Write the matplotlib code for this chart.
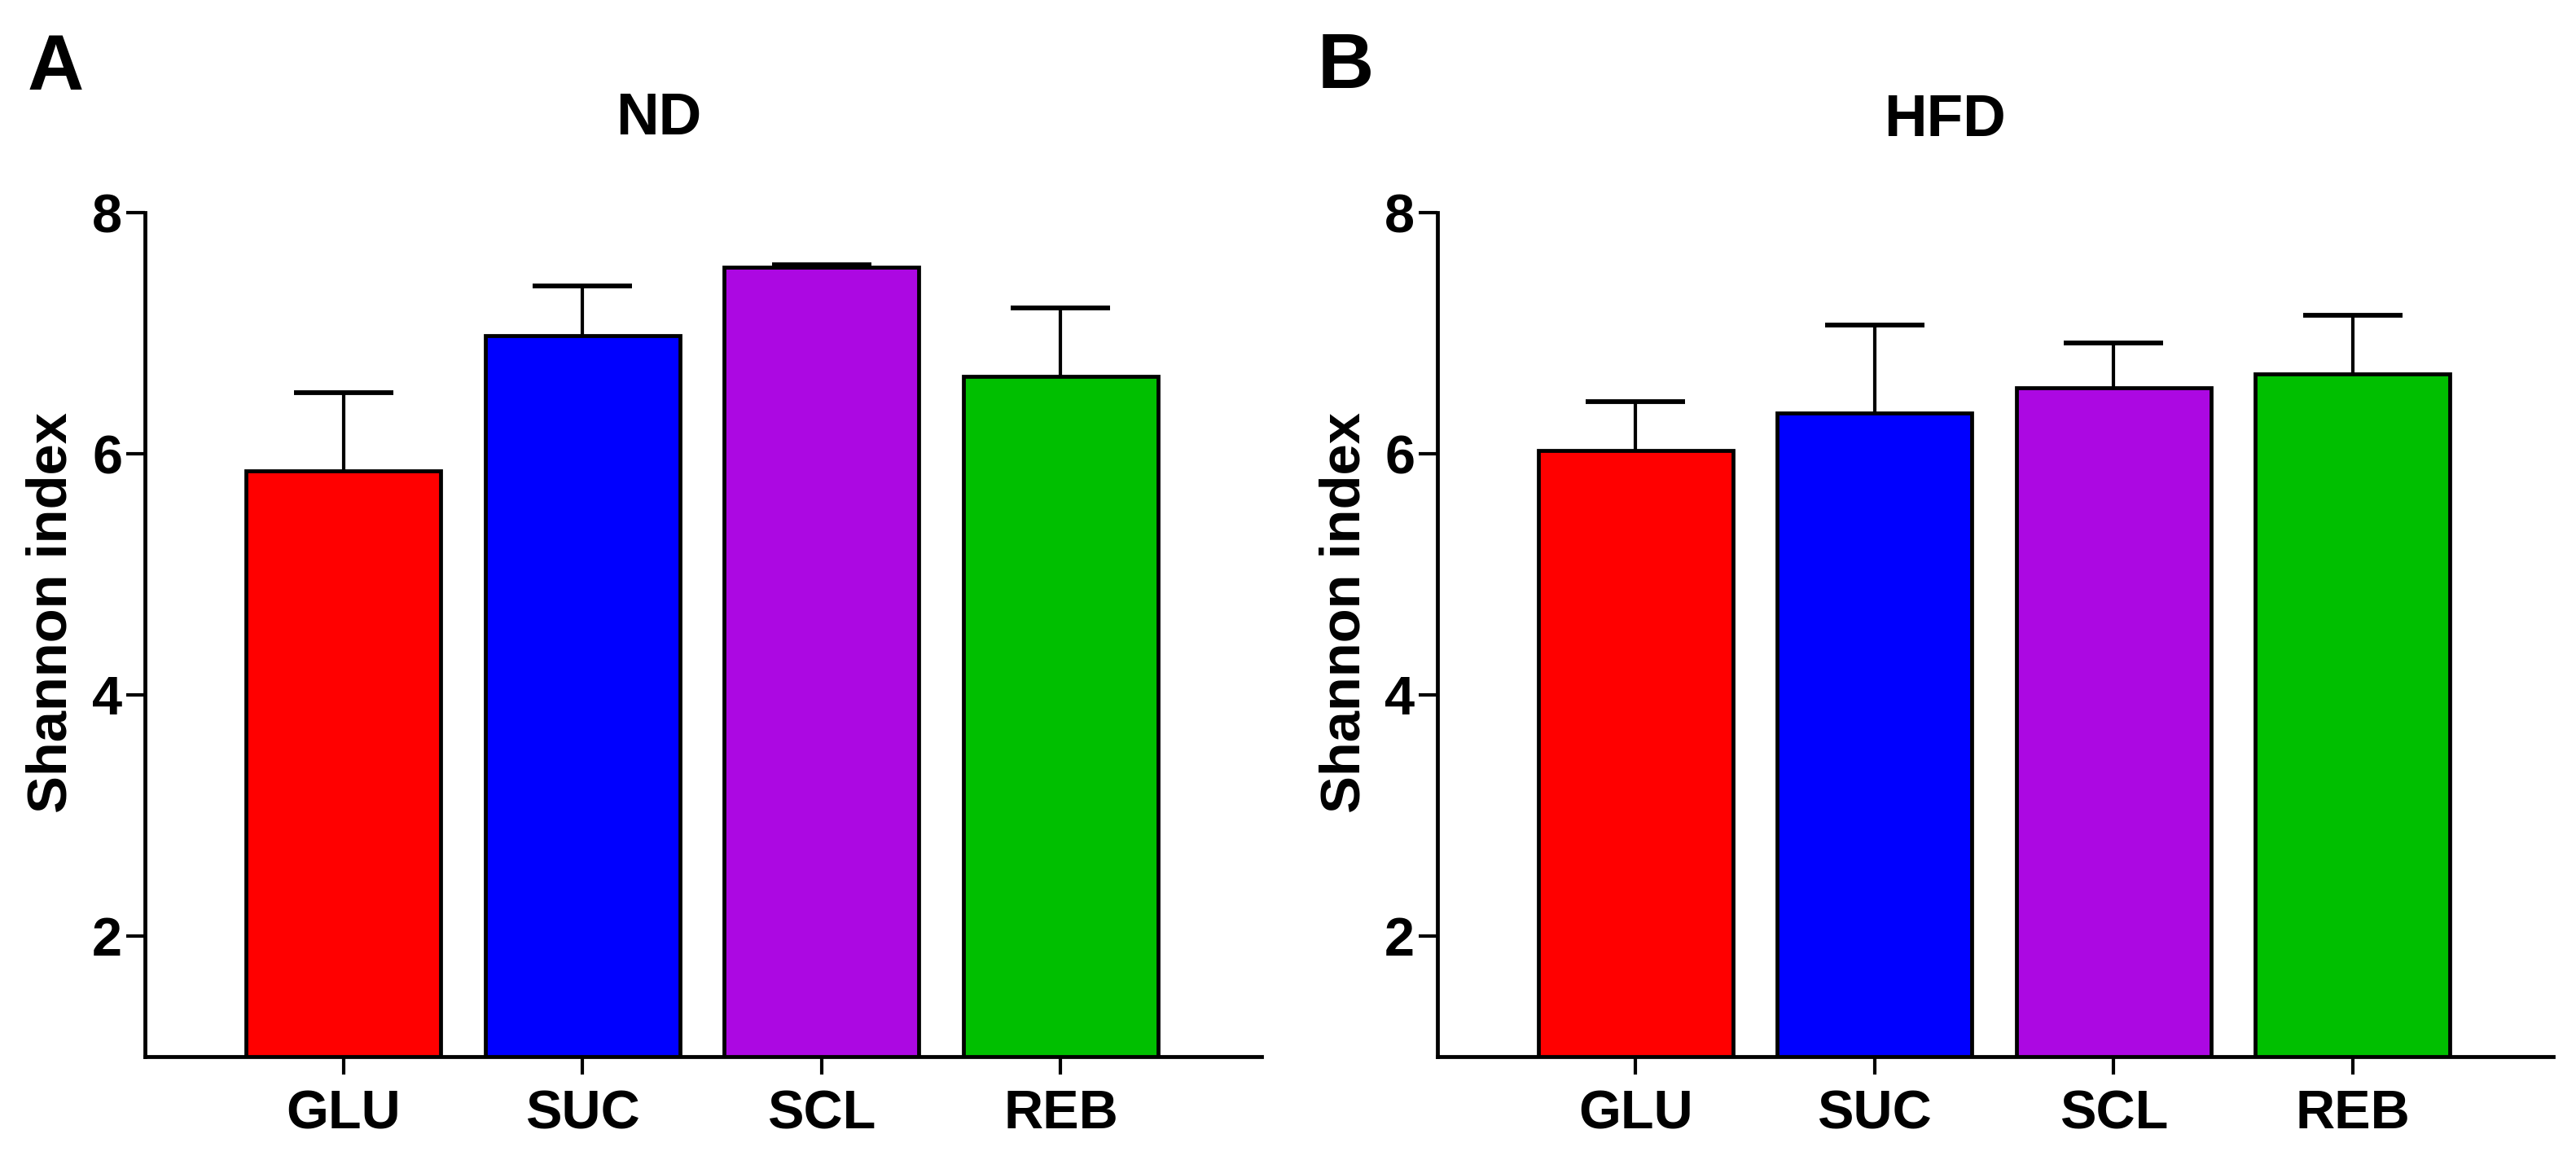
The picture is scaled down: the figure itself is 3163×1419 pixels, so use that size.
import matplotlib
matplotlib.use("Agg")
import matplotlib.pyplot as plt
import numpy as np

plt.rcParams['font.family'] = ['Liberation Sans', 'DejaVu Sans']
plt.rcParams['font.weight'] = 'bold'

groups = ["GLU", "SUC", "SCL", "REB"]
colors = ["#FF0000", "#0000FF", "#AC08E2", "#00BF00"]

nd_mean = [5.86, 6.98, 7.55, 6.64]
nd_err = [0.65, 0.41, 0.02, 0.57]
hfd_mean = [6.03, 6.34, 6.55, 6.66]
hfd_err = [0.40, 0.73, 0.37, 0.49]

W, H = 3163, 1419
fig = plt.figure(figsize=(W / 300, H / 300), dpi=300)


def panel(left, right, means, errs):
    # axes box in pixel units of the reference
    ax = fig.add_axes([left / W, 1 - 1297 / H, (right - left) / W, (1297 - 261) / H])
    x = np.arange(len(groups))
    ax.bar(x, means, width=0.815, color=colors, edgecolor="black", linewidth=1.15, zorder=2)
    eb = ax.errorbar(x, means, yerr=[np.zeros(len(errs)), errs], fmt="none", ecolor="black",
                     elinewidth=1.0, capsize=14.6, capthick=1.4, zorder=1)
    eb[1][0].set_visible(False)  # only upper caps
    ax.set_xlim(-0.83, 3.84)
    ax.set_ylim(1, 8)
    ax.set_yticks([2, 4, 6, 8])
    ax.set_xticks(x)
    ax.set_xticklabels(groups)
    for s in ["top", "right"]:
        ax.spines[s].set_visible(False)
    for s in ["left", "bottom"]:
        ax.spines[s].set_linewidth(1.15)
    ax.tick_params(axis="y", length=5.5, width=1.0, pad=1.2, labelsize=16)
    ax.tick_params(axis="x", length=5.3, width=1.0, pad=4.3, labelsize=16)
    for lab in ax.get_xticklabels() + ax.get_yticklabels():
        lab.set_fontweight("bold")
    ax.text((64 - 178) / (right - left), (1297 - 752) / (1297 - 261), "Shannon index",
            rotation=90, ha="center", va="center", fontsize=16.5, fontweight="bold",
            transform=ax.transAxes)
    return ax


panel(178, 1549, nd_mean, nd_err)
panel(1765, 3135, hfd_mean, hfd_err)

fig.text(809 / W, 1 - 165 / H, "ND", ha="center", va="baseline", fontsize=17.5, fontweight="bold")
fig.text(2388 / W, 1 - 167 / H, "HFD", ha="center", va="baseline", fontsize=17.5, fontweight="bold")
fig.text(34 / W, 1 - 110 / H, "A", ha="left", va="baseline", fontsize=23, fontweight="bold")
fig.text(1618 / W, 1 - 108 / H, "B", ha="left", va="baseline", fontsize=23, fontweight="bold")

fig.savefig("out.png", dpi=300, facecolor="white")
